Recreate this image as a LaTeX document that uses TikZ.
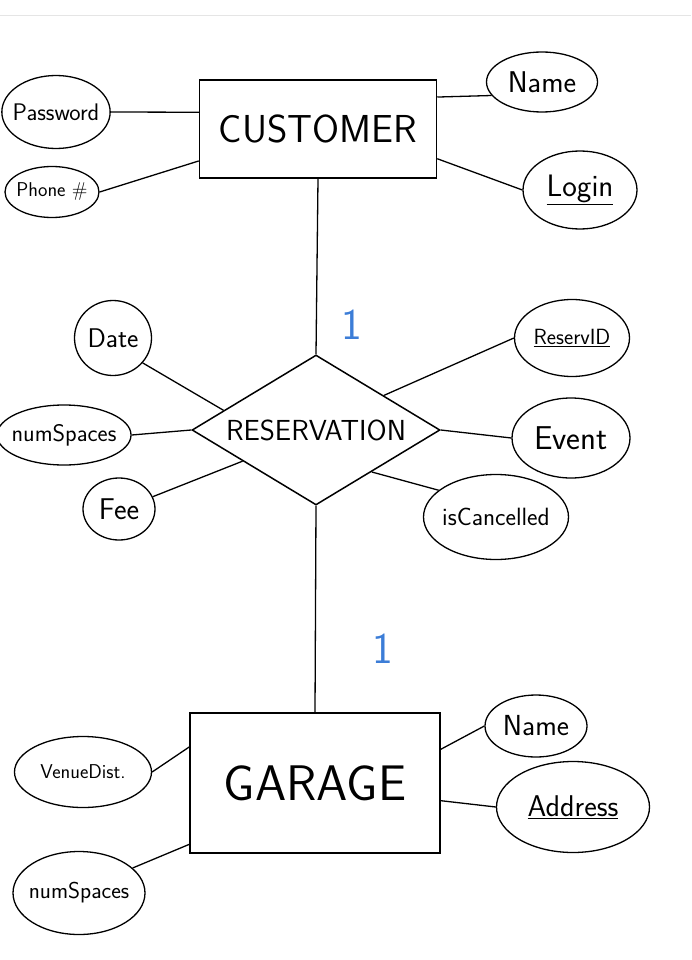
\documentclass[tikz,border=0pt]{standalone}
\usetikzlibrary{shapes.geometric}
\definecolor{penblue}{RGB}{60,125,215}

\begin{document}
\begin{tikzpicture}[
        x=1pt, y=-1pt,
        font=\sffamily,
        entity/.style={draw, line width=1.5pt, inner sep=0pt, font=\sffamily\fontsize{39}{42}\selectfont},
        relation/.style={draw, diamond, line width=1.5pt, inner sep=0pt, aspect=1.65,
            minimum width=248pt, minimum height=150pt, font=\sffamily\fontsize{29}{32}\selectfont},
        attr/.style={draw, ellipse, line width=1.3pt, inner xsep=-5pt, inner ysep=0pt, font=\sffamily\fontsize{24}{26}\selectfont},
        link/.style={line width=1.3pt},
        one/.style={text=penblue, font=\sffamily\fontsize{44}{48}\selectfont}
    ]

    \useasboundingbox (0,0) rectangle (691,960);
    \draw[black!10] (0,15) -- (691,15);

    % ---- CUSTOMER ----
    \node[entity, minimum width=237pt, minimum height=98pt] (cust) at (318,129) {CUSTOMER};
    \node[attr, minimum width=102pt, minimum height=73pt] (pass) at (56,112) {Password};
    \node[attr, minimum width=94pt, minimum height=51pt, font=\sffamily\fontsize{20}{22}\selectfont] (phone) at (52,192) {Phone \#};
    \node[attr, minimum width=111pt, minimum height=60pt, font=\sffamily\fontsize{30}{32}\selectfont] (cname) at (542,82) {Name};
    \node[attr, minimum width=114pt, minimum height=78pt, font=\sffamily\fontsize{31}{33}\selectfont] (login) at (580,190) {\underline{Login}};

    \draw[link] (pass.east) -- (cust.172);
    \draw[link] (phone.east) -- (cust.195);
    \draw[link] (cname.195) -- (cust.15);
    \draw[link] (login.west) -- (cust.-14);

    % ---- RESERVATION ----
    \node[relation] (res) at (316,430) {RESERVATION};
    \node[attr, minimum width=77pt, minimum height=75pt, font=\sffamily\fontsize{27}{29}\selectfont] (date) at (113,338) {Date};
    \node[attr, minimum width=128pt, minimum height=60pt] (rspaces) at (64,435) {numSpaces};
    \node[attr, minimum width=72pt, minimum height=62pt, font=\sffamily\fontsize{30}{32}\selectfont] (fee) at (119,509) {Fee};
    \node[attr, minimum width=115pt, minimum height=77pt, font=\sffamily\fontsize{22}{24}\selectfont] (rid) at (572,338) {\underline{ReservID}};
    \node[attr, minimum width=118pt, minimum height=80pt, font=\sffamily\fontsize{33}{36}\selectfont] (event) at (571,438) {Event};
    \node[attr, minimum width=145pt, minimum height=85pt, font=\sffamily\fontsize{25}{27}\selectfont] (cancel) at (496,517) {isCancelled};

    \draw[link] (date.-40) -- (res.168);
    \draw[link] (rspaces.east) -- (res.west);
    \draw[link] (fee.20) -- (res.203);
    \draw[link] (rid.west) -- (res.27);
    \draw[link] (event.west) -- (res.east);
    \draw[link] (cancel.155) -- (res.-37);

    % ---- GARAGE ----
    \node[entity, minimum width=250pt, minimum height=140pt, font=\sffamily\fontsize{50}{54}\selectfont] (gar) at (315,783) {GARAGE};
    \node[attr, minimum width=137pt, minimum height=71pt, font=\sffamily\fontsize{20}{22}\selectfont] (venue) at (83,772) {VenueDist.};
    \node[attr, minimum width=132pt, minimum height=83pt, font=\sffamily\fontsize{23}{25}\selectfont] (gspaces) at (79,893) {numSpaces};
    \node[attr, minimum width=102pt, minimum height=62pt, font=\sffamily\fontsize{29}{31}\selectfont] (gname) at (536,726) {Name};
    \node[attr, minimum width=153pt, minimum height=91pt, font=\sffamily\fontsize{30}{32}\selectfont] (addr) at (573,807) {\underline{Address}};

    \draw[link] (venue.east) -- (gar.164);
    \draw[link] (gspaces.25) -- (gar.206);
    \draw[link] (gname.west) -- (gar.15);
    \draw[link] (addr.west) -- (gar.-8);

    % ---- cardinalities ----
    \draw[link] (cust.south) -- node[one, pos=0.83, xshift=35pt] {1} (res.north);
    \draw[link] (res.south) -- node[one, pos=0.69, xshift=68pt] {1} (gar.north);

\end{tikzpicture}
\end{document}
